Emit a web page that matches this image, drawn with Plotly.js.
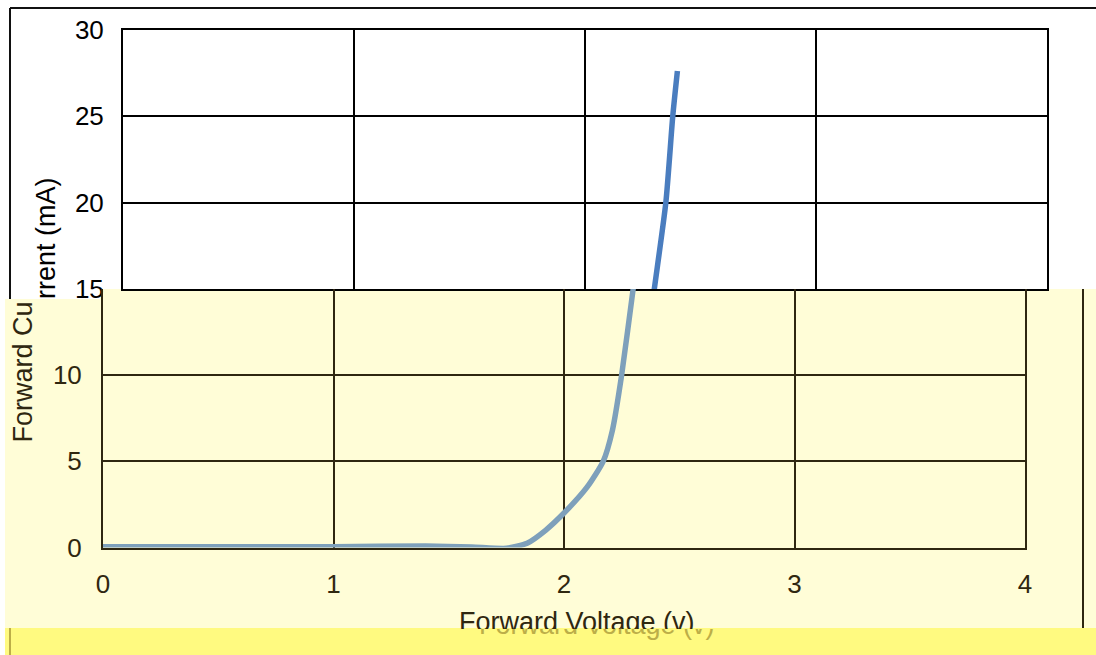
<!DOCTYPE html>
<html>
<head>
<meta charset="utf-8">
<script src="https://cdn.plot.ly/plotly-3.0.1.min.js"></script>
<style>html,body{margin:0;padding:0;background:#fff;}#chart{width:1096px;height:655px;}</style>
</head>
<body>
<div id="chart"></div>
<script>
// Forward voltage (V) and forward current (mA)
const voltage = [0, 0.5, 1.0, 1.4, 1.6, 1.75, 1.84, 1.92, 2.0, 2.1, 2.17, 2.21, 2.25, 2.30, 2.35, 2.38, 2.40];
const current = [0.05, 0.05, 0.05, 0.08, 0.03, -0.05, 0.25, 1.0, 2.0, 3.5, 5.0, 6.8, 10.0, 15.0, 20.0, 25.0, 27.6];
const xTicks = [0, 1, 2, 3, 4];
const yTicksUpper = [15, 20, 25, 30];
const yTicksLower = [0, 5, 10];
const yTitleUpper = "rrent (mA)";
const yTitleLower = "Forward Cu";
const xTitle = "Forward Voltage (v)";

const W = 1096, H = 655;
const px = v => v / W;
const py = v => 1 - v / H;

const FONT = "Liberation Sans, Arial, sans-serif";
const DARK = "#2f2710";
const LIGHTY = "#FFFDD7";
const BRIGHTY = "#FFFA80";
const OLIVE = "#bcae48";

const traces = [
  {x: voltage, y: current, xaxis: 'x', yaxis: 'y', type: 'scatter', mode: 'lines',
   line: {color: '#4a7dbf', width: 5.5, shape: 'spline', smoothing: 0.6}, hoverinfo: 'skip'},
  {x: voltage, y: current, xaxis: 'x2', yaxis: 'y2', type: 'scatter', mode: 'lines',
   line: {color: '#7ea0bb', width: 5.5, shape: 'spline', smoothing: 0.6}, hoverinfo: 'skip'}
];

const layout = {
  width: W, height: H,
  margin: {l: 0, r: 0, t: 0, b: 0},
  paper_bgcolor: '#ffffff',
  plot_bgcolor: 'rgba(0,0,0,0)',
  showlegend: false,
  font: {family: FONT},
  xaxis: {
    domain: [px(123), px(1047)], anchor: 'y', range: [0, 4], tickvals: xTicks,
    showticklabels: false, ticks: '', showgrid: true, gridcolor: '#000', gridwidth: 2,
    showline: true, mirror: true, linecolor: '#000', linewidth: 2, zeroline: false, fixedrange: true
  },
  yaxis: {
    domain: [py(289), py(29.5)], anchor: 'x', range: [15, 30], tickvals: yTicksUpper,
    ticks: '', ticklabelstandoff: 12, tickfont: {size: 26, color: '#000', family: FONT},
    showgrid: true, gridcolor: '#000', gridwidth: 2,
    showline: true, mirror: true, linecolor: '#000', linewidth: 2, zeroline: false, fixedrange: true
  },
  xaxis2: {
    domain: [px(103), px(1025)], anchor: 'y2', range: [0, 4], tickvals: xTicks,
    ticks: '', ticklabelstandoff: 12, tickfont: {size: 26, color: DARK, family: FONT},
    showgrid: true, gridcolor: DARK, gridwidth: 2,
    showline: true, mirror: false, linecolor: DARK, linewidth: 2, zeroline: false, fixedrange: true
  },
  yaxis2: {
    domain: [py(547.5), py(289)], anchor: 'x2', range: [0, 15], tickvals: yTicksLower,
    ticks: '', ticklabelstandoff: 14, tickfont: {size: 26, color: DARK, family: FONT},
    showgrid: true, gridcolor: DARK, gridwidth: 2,
    showline: true, mirror: true, linecolor: DARK, linewidth: 2, zeroline: false, fixedrange: true
  },
  shapes: [
    {type: 'rect', xref: 'paper', yref: 'paper', layer: 'below', x0: px(100), x1: px(1096), y0: py(628), y1: py(289), fillcolor: LIGHTY, line: {width: 0}},
    {type: 'rect', xref: 'paper', yref: 'paper', layer: 'below', x0: px(5), x1: px(100), y0: py(628), y1: py(299), fillcolor: LIGHTY, line: {width: 0}},
    {type: 'rect', xref: 'paper', yref: 'paper', layer: 'below', x0: px(5), x1: px(1096), y0: py(655), y1: py(628), fillcolor: BRIGHTY, line: {width: 0}},
    {type: 'line', xref: 'paper', yref: 'paper', layer: 'below', x0: px(10), x1: px(1096), y0: py(8), y1: py(8), line: {color: '#111', width: 2}},
    {type: 'line', xref: 'paper', yref: 'paper', layer: 'below', x0: px(10), x1: px(10), y0: py(8), y1: py(299), line: {color: '#111', width: 2}},
    {type: 'line', xref: 'paper', yref: 'paper', layer: 'below', x0: px(1083), x1: px(1083), y0: py(289), y1: py(628), line: {color: DARK, width: 2}},
    {type: 'line', xref: 'paper', yref: 'paper', layer: 'below', x0: px(10), x1: px(10), y0: py(628), y1: py(655), line: {color: OLIVE, width: 2}}
  ],
  annotations: [
    {xref: 'paper', yref: 'paper', x: px(46), y: py(175), xanchor: 'center', yanchor: 'top',
     text: yTitleUpper, textangle: -90, showarrow: false, font: {size: 27, color: '#000', family: FONT}},
    {xref: 'paper', yref: 'paper', x: px(22), y: py(445), xanchor: 'center', yanchor: 'bottom',
     text: yTitleLower, textangle: -90, showarrow: false, font: {size: 27, color: DARK, family: FONT}},
    {xref: 'paper', yref: 'paper', x: px(458), y: py(606), xanchor: 'left', yanchor: 'top',
     height: 22, valign: 'top', borderpad: 0,
     text: xTitle, showarrow: false, font: {size: 27, color: DARK, family: FONT}},
    {xref: 'paper', yref: 'paper', x: px(478), y: py(628), xanchor: 'left', yanchor: 'top',
     height: 11, valign: 'bottom', borderpad: 0,
     text: xTitle, showarrow: false, font: {size: 27, color: OLIVE, family: FONT}}
  ]
};

Plotly.newPlot('chart', traces, layout, {staticPlot: true, displayModeBar: false});
</script>
</body>
</html>
